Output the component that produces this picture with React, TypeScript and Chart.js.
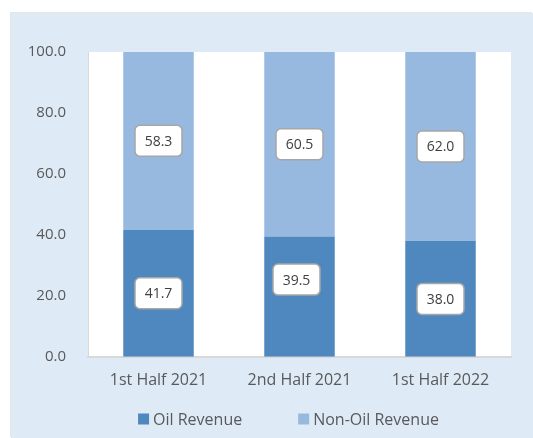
import React, { useEffect, useRef } from "react";
import { Chart, registerables } from "chart.js";

Chart.register(...registerables);

const categories = ["1st Half 2021", "2nd Half 2021", "1st Half 2022"];
const oilRevenue = [41.7, 39.5, 38.0];
const nonOilRevenue = [58.3, 60.5, 62.0];
const seriesNames = ["Oil Revenue", "Non-Oil Revenue"];
const yTicks = [0, 20, 40, 60, 80, 100];

const OIL_COLOR = "#4F88BE";
const NONOIL_COLOR = "#97B9E0";
const FONT = "'Open Sans', sans-serif";
// manual nudges of the data-label boxes [dataset][index] as [dx, dy] px
const labelNudges = [
  [[0, 0], [-3, -17], [0, 0]],
  [[0, 0], [0, 0], [0, 0]],
];

export default function App() {
  const ref = useRef<HTMLCanvasElement | null>(null);
  useEffect(() => {
    if (!ref.current) return;
    const plotBg = {
      id: "plotBg",
      beforeDraw(chart: any) {
        const { ctx, chartArea } = chart;
        ctx.save();
        ctx.fillStyle = "#FFFFFF";
        ctx.fillRect(chartArea.left, chartArea.top, chartArea.right - chartArea.left, chartArea.bottom - chartArea.top);
        ctx.restore();
      },
    };
    const labels = {
      id: "boxLabels",
      afterDatasetsDraw(chart: any) {
        const { ctx } = chart;
        ctx.save();
        chart.data.datasets.forEach((ds: any, di: number) => {
          const meta = chart.getDatasetMeta(di);
          meta.data.forEach((bar: any, i: number) => {
            const v = ds.data[i];
            const nudge = labelNudges[di][i];
            const cx = bar.x + nudge[0];
            const cy = (bar.y + bar.base) / 2 + nudge[1];
            const w = 47, h = 31, r = 5;
            ctx.beginPath();
            ctx.roundRect(cx - w / 2, cy - h / 2, w, h, r);
            ctx.fillStyle = "#FFFFFF";
            ctx.fill();
            ctx.lineWidth = 1.5;
            ctx.strokeStyle = "#A6A6A6";
            ctx.stroke();
            ctx.fillStyle = "#404040";
            ctx.font = `14px ${FONT}`;
            ctx.textAlign = "center";
            ctx.textBaseline = "middle";
            ctx.fillText(v.toFixed(1), cx, cy + 1);
          });
        });
        ctx.restore();
      },
    };
    const legend = {
      id: "customLegend",
      afterDraw(chart: any) {
        const { ctx } = chart;
        ctx.save();
        ctx.font = `16px ${FONT}`;
        ctx.textBaseline = "middle";
        ctx.textAlign = "left";
        const box = 11, gapText = 4, gapItem = 56;
        const items = chart.data.datasets.map((d: any) => ({ label: d.label, color: d.backgroundColor }));
        const widths = items.map((it: any) => box + gapText + ctx.measureText(it.label).width);
        const total = widths.reduce((a: number, b: number) => a + b, 0) + gapItem * (items.length - 1);
        const center = (chart.chartArea.left + chart.chartArea.right) / 2 - 11;
        let x = center - total / 2;
        const y = 406;
        items.forEach((it: any, k: number) => {
          ctx.fillStyle = it.color;
          ctx.fillRect(x, y - box / 2, box, box);
          ctx.fillStyle = "#595959";
          ctx.fillText(it.label, x + box + gapText, y + 1);
          x += widths[k] + gapItem;
        });
        ctx.restore();
      },
    };
    const chart = new Chart(ref.current, {
      type: "bar",
      data: {
        labels: categories,
        datasets: [
          { label: seriesNames[0], data: oilRevenue, backgroundColor: OIL_COLOR, barPercentage: 1, categoryPercentage: 0.5 },
          { label: seriesNames[1], data: nonOilRevenue, backgroundColor: NONOIL_COLOR, barPercentage: 1, categoryPercentage: 0.5 },
        ],
      },
      options: {
        animation: false,
        responsive: false,
        maintainAspectRatio: false,
        layout: { padding: { top: 39, right: 22, left: 0, bottom: 34 } },
        plugins: { legend: { display: false }, tooltip: { enabled: false } },
        scales: {
          x: {
            stacked: true,
            grid: { display: false, drawTicks: false },
            border: { color: "#D9D9D9", width: 2 },
            ticks: { color: "#595959", font: { family: FONT, size: 16 }, padding: 14 },
          },
          y: {
            stacked: true,
            min: 0,
            max: 100,
            afterBuildTicks(axis: any) {
              axis.ticks = yTicks.map((v) => ({ value: v }));
            },
            afterFit(axis: any) {
              axis.width = 77;
            },
            grid: { display: false, drawTicks: false },
            border: { color: "#D9D9D9", width: 1 },
            ticks: {
              color: "#595959",
              font: { family: FONT, size: 15 },
              padding: 22,
              callback: (v: any) => Number(v).toFixed(1),
            },
          },
        },
      },
      plugins: [plotBg, labels, legend],
    });
    return () => chart.destroy();
  }, []);
  return (
    <div style={{ position: "fixed", left: 0, top: 0, width: 533, height: 438, background: "#FFFFFF" }}>
      <div
        style={{
          position: "absolute",
          left: 11,
          top: 13,
          width: 522,
          height: 425,
          background: "#DEEAF6",
          boxShadow: "-1px -1px 0 #E6E6E6",
        }}
      >
        <canvas ref={ref} width={522} height={425} style={{ display: "block" }} />
      </div>
    </div>
  );
}
